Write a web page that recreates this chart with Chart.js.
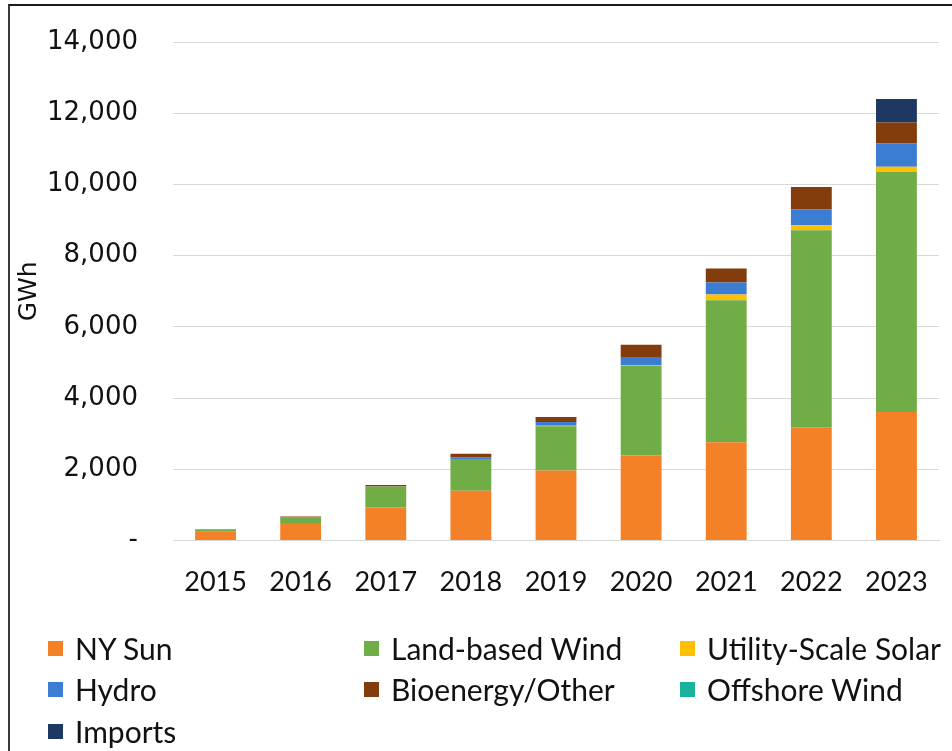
<!DOCTYPE html>
<html>
<head>
<meta charset="utf-8">
<script src="https://cdn.jsdelivr.net/npm/chart.js@4"></script>
<style>
  html, body { margin: 0; padding: 0; background: #fff; }
  #wrap { position: relative; width: 952px; height: 751px; overflow: hidden; }
  #frame { position: absolute; left: 8px; top: 4px; right: -4px; bottom: -4px;
           border-top: 2px solid #1a1a1a; border-left: 2px solid #3a3a3a; }
  #box { position: absolute; left: 0; top: 0; width: 952px; height: 615px; }
  #legend { position: absolute; left: 0; top: 0; width: 952px; height: 751px; pointer-events: none; }
  .item { position: absolute; display: flex; align-items: center; height: 36px;
          font-family: Lato, sans-serif; font-size: 30px; color: #111; white-space: nowrap; }
  .item span.sw { display: inline-block; width: 15px; height: 15px; margin-right: 12px; }
</style>
</head>
<body>
<div id="wrap">
  <div id="frame"></div>
  <div id="box"><canvas id="genChart"></canvas></div>
  <div id="legend"></div>
</div>
<script>
//categories
const years = ['2015', '2016', '2017', '2018', '2019', '2020', '2021', '2022', '2023']

//series values, GWh
const nySun = [245, 497, 928, 1397, 1968, 2390, 2764, 3186, 3608]
const landWind = [50, 150, 590, 870, 1245, 2510, 3984, 5529, 6746]
const utilitySolar = [0, 0, 0, 0, 10, 20, 160, 140, 140]
const hydro = [0, 0, 0, 75, 110, 235, 337, 450, 658]
const bioenergy = [15, 30, 40, 95, 140, 345, 394, 627, 590]
const offshoreWind = [0, 0, 0, 0, 0, 0, 0, 0, 0]
const imports = [0, 0, 0, 0, 0, 0, 0, 0, 656]

//y axis ticks
const yTicks = [0, 2000, 4000, 6000, 8000, 10000, 12000, 14000]

//legend slots (column, row) in reading order
const legendCols = [48, 364, 680]
const legendRows = [648, 689, 731]


const data = {
  labels: years,
  datasets: [
    { label: 'NY Sun', data: nySun, backgroundColor: 'rgb(244, 128, 40)' },
    { label: 'Land-based Wind', data: landWind, backgroundColor: 'rgb(112, 173, 71)' },
    { label: 'Utility-Scale Solar', data: utilitySolar, backgroundColor: 'rgb(255, 192, 0)' },
    { label: 'Hydro', data: hydro, backgroundColor: 'rgb(58, 125, 210)' },
    { label: 'Bioenergy/Other', data: bioenergy, backgroundColor: 'rgb(131, 60, 12)' },
    { label: 'Offshore Wind', data: offshoreWind, backgroundColor: 'rgb(26, 178, 156)' },
    { label: 'Imports', data: imports, backgroundColor: 'rgb(29, 56, 98)' }
  ]
}

//html legend laid out in three columns like the original
const htmlLegend = {
  id: 'htmlLegend',
  afterUpdate(chart) {
    const box = document.getElementById('legend')
    box.innerHTML = ''
    const items = chart.options.plugins.legend.labels.generateLabels(chart)
    items.forEach((it, i) => {
      const div = document.createElement('div')
      div.className = 'item'
      div.style.left = legendCols[i % 3] + 'px'
      div.style.top = (legendRows[Math.floor(i / 3)] - 18) + 'px'
      const sw = document.createElement('span')
      sw.className = 'sw'
      sw.style.background = it.fillStyle
      div.appendChild(sw)
      div.appendChild(document.createTextNode(it.text))
      box.appendChild(div)
    })
  }
}

const config = {
  type: 'bar',
  data: data,
  plugins: [htmlLegend],
  options: {
    responsive: true,
    maintainAspectRatio: false,
    animation: false,
    layout: { padding: { left: 14, right: 13, top: 42, bottom: 0 } },
    datasets: { bar: { categoryPercentage: 1, barPercentage: 0.48 } },
    plugins: {
      legend: { display: false },
      tooltip: { enabled: false }
    },
    scales: {
      x: {
        stacked: true,
        grid: { display: false },
        border: { color: '#d9d9d9', width: 1 },
        ticks: {
          padding: 17,
          color: '#111',
          font: { family: 'Lato', size: 27 }
        }
      },
      y: {
        stacked: true,
        min: 0,
        max: 14000,
        afterBuildTicks: (scale) => { scale.ticks = yTicks.map(v => ({ value: v })) },
        afterFit: (scale) => { scale.width = 159 },
        // invisible tick marks give the label gap without padding the top
        grid: { color: '#d9d9d9', lineWidth: 1, drawTicks: true, tickLength: 35, tickColor: 'rgba(0,0,0,0)' },
        border: { display: false },
        title: {
          display: true,
          text: 'GWh',
          color: '#111',
          padding: { top: 0, bottom: 0 },
          font: { family: 'DejaVu Sans', size: 25 }
        },
        ticks: {
          padding: 0,
          color: '#111',
          font: { family: 'DejaVu Sans', size: 26 },
          callback: (v) => v === 0 ? '-' : v.toLocaleString('en-US')
        }
      }
    }
  }
}

const genChart = new Chart(document.getElementById('genChart'), config)
</script>
</body>
</html>
